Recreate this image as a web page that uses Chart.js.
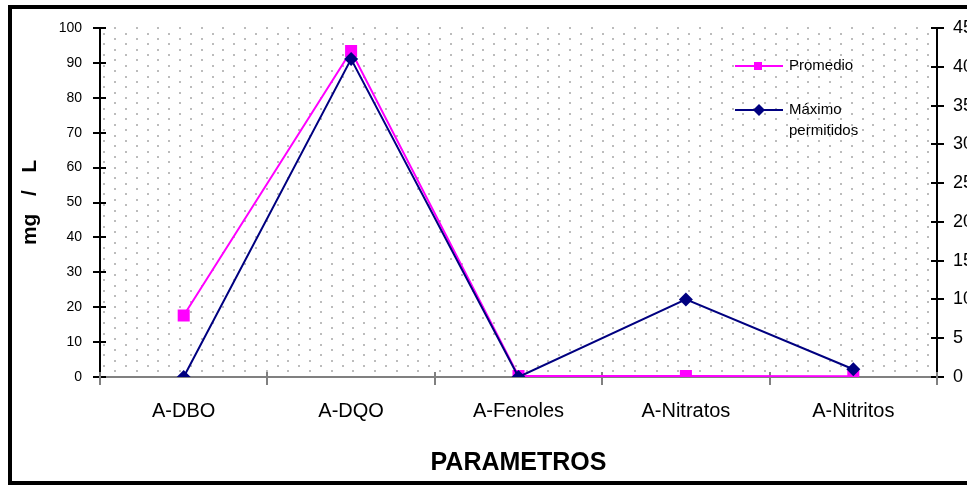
<!DOCTYPE html>
<html>
<head>
<meta charset="utf-8">
<script src="https://cdn.jsdelivr.net/npm/chart.js@4.4.0/dist/chart.umd.min.js"></script>
<style>
  html, body { margin: 0; padding: 0; background: #fff; }
  #wrap { width: 967px; height: 485px; }
</style>
</head>
<body>
<div id="wrap"><canvas id="chart" width="967" height="485"></canvas></div>
<script>
const categories = ['A-DBO', 'A-DQO', 'A-Fenoles', 'A-Nitratos', 'A-Nitritos'];
const promedio = [17.6, 93.4, 0.3, 0.3, 0.2];          // left axis, mg/L
const maximoPermitidos = [0, 41, 0, 10, 1];            // right axis
const seriesNames = ['Promedio', 'Máximo permitidos'];
const leftTicks = [0, 10, 20, 30, 40, 50, 60, 70, 80, 90, 100];
const rightTicks = [0, 5, 10, 15, 20, 25, 30, 35, 40, 45];

const PINK = '#ff00ff';
const NAVY = '#000080';
Chart.defaults.font.family = '"Liberation Sans", Arial, sans-serif';

// white page, outer frame and the dotted plot fill
const frame = {
    id: 'frame',
    beforeDraw(chart) {
        const ctx = chart.ctx, a = chart.chartArea;
        ctx.save();
        ctx.fillStyle = '#fff';
        ctx.fillRect(0, 0, chart.width, chart.height);
        ctx.fillStyle = '#bcbcbc';
        let row = 0;
        for (let y = a.top + 0.3; y < a.bottom - 1; y += 5.36, row++) {
            for (let x = a.left + (row % 2 === 0 ? 15 : 4.2); x < a.right - 1; x += 21.67) {
                ctx.fillRect(Math.round(x) - 1, Math.round(y) - 1, 2, 2);
            }
        }
        ctx.fillStyle = '#000';
        ctx.fillRect(8, 5, chart.width - 8, 4);
        ctx.fillRect(8, 5, 4, chart.height - 5);
        ctx.fillRect(8, 481, chart.width - 8, 4);
        ctx.restore();
    }
};

// tick marks that cross the axis lines
const crossTicks = {
    id: 'crossTicks',
    beforeDatasetsDraw(chart) {
        const ctx = chart.ctx;
        const { x, y, y2 } = chart.scales;
        ctx.save();
        ctx.lineWidth = 2;
        ctx.strokeStyle = '#000';
        ctx.beginPath();
        y.ticks.forEach((t, i) => {
            const p = Math.round(y.getPixelForTick(i));
            ctx.moveTo(y.right - 7, p); ctx.lineTo(y.right + 6, p);
        });
        y2.ticks.forEach((t, i) => {
            const p = Math.round(y2.getPixelForTick(i));
            ctx.moveTo(y2.left - 6, p); ctx.lineTo(y2.left + 7, p);
        });
        ctx.stroke();
        ctx.strokeStyle = '#808080';
        ctx.beginPath();
        const step = (x.right - x.left) / categories.length;
        for (let i = 0; i <= categories.length; i++) {
            const p = Math.round(x.left + i * step);
            ctx.moveTo(p, x.top - 5); ctx.lineTo(p, x.top + 8);
        }
        ctx.stroke();
        ctx.restore();
    }
};

// legend sitting inside the plot, top right
const insideLegend = {
    id: 'insideLegend',
    afterDatasetsDraw(chart) {
        const ctx = chart.ctx;
        const rows = [66, 110];
        ctx.save();
        ctx.font = '15px "Liberation Sans", Arial, sans-serif';
        ctx.textBaseline = 'middle';
        chart.data.datasets.forEach((ds, i) => {
            const yy = rows[i];
            ctx.strokeStyle = ds.borderColor;
            ctx.lineWidth = 2;
            ctx.beginPath();
            ctx.moveTo(735, yy); ctx.lineTo(783, yy);
            ctx.stroke();
            ctx.fillStyle = ds.borderColor;
            if (ds.pointStyle === 'rect') {
                ctx.fillRect(754, yy - 4, 8, 8);
            } else {
                ctx.beginPath();
                ctx.moveTo(759, yy - 6); ctx.lineTo(765, yy); ctx.lineTo(759, yy + 6); ctx.lineTo(753, yy);
                ctx.closePath(); ctx.fill();
            }
            ctx.fillStyle = '#000';
            const words = ds.label.split(' ');
            words.forEach((w, j) => ctx.fillText(w, 789, yy + j * 21));
        });
        ctx.restore();
    }
};

new Chart(document.getElementById('chart'), {
    type: 'line',
    data: {
        labels: categories,
        datasets: [
            {
                label: seriesNames[0], data: promedio, yAxisID: 'y', order: 1,
                borderColor: PINK, backgroundColor: PINK, borderWidth: 2, tension: 0,
                pointStyle: 'rect', pointRadius: 8.5, pointBorderWidth: 0, pointBackgroundColor: PINK
            },
            {
                label: seriesNames[1], data: maximoPermitidos, yAxisID: 'y2', order: 0,
                borderColor: NAVY, backgroundColor: NAVY, borderWidth: 2, tension: 0,
                pointStyle: 'rectRot', pointRadius: 7, pointBorderWidth: 0, pointBackgroundColor: NAVY
            }
        ]
    },
    options: {
        responsive: false,
        devicePixelRatio: 1,
        animation: false,
        layout: { padding: { top: 28, left: 0, right: 0, bottom: 0 } },
        plugins: { legend: { display: false }, tooltip: { enabled: false } },
        scales: {
            x: {
                type: 'category', offset: true,
                grid: { display: false, drawTicks: false },
                border: { color: '#808080', width: 2 },
                ticks: { color: '#000', font: { size: 20 }, padding: 22, maxRotation: 0, autoSkip: false },
                title: { display: true, text: 'PARAMETROS', color: '#000', font: { size: 25, weight: 'bold' }, padding: { top: 0, bottom: 7 } },
                afterFit: s => { s.height = 108; }
            },
            y: {
                position: 'left',
                min: leftTicks[0], max: leftTicks[leftTicks.length - 1],
                grid: { display: false, drawTicks: false },
                border: { color: '#000', width: 2 },
                ticks: { stepSize: leftTicks[1] - leftTicks[0], color: '#000', font: { size: 14 }, padding: 18 },
                title: { display: true, text: 'mg   /   L', color: '#000', font: { size: 21, weight: 'bold' }, padding: { top: 18, bottom: 0 } },
                afterFit: s => { s.width = 100; }
            },
            y2: {
                position: 'right',
                min: rightTicks[0], max: rightTicks[rightTicks.length - 1],
                grid: { display: false, drawTicks: false },
                border: { color: '#000', width: 2 },
                ticks: { stepSize: rightTicks[1] - rightTicks[0], color: '#000', font: { size: 18 }, padding: 16 },
                afterFit: s => { s.width = 30; }
            }
        }
    },
    plugins: [frame, crossTicks, insideLegend]
});
</script>
</body>
</html>
